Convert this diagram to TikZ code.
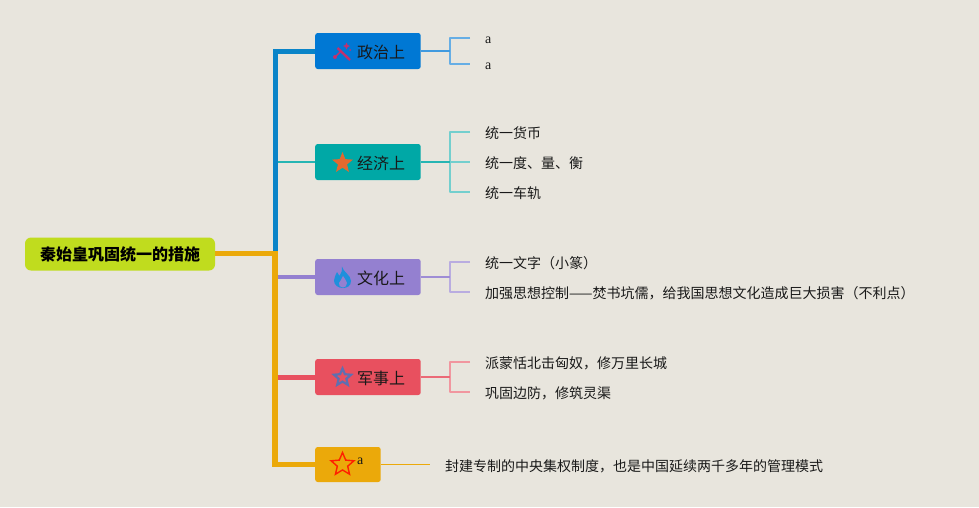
\documentclass[tikz,border=0pt]{standalone}
\usepackage{fontspec}
\setmainfont{Noto Sans CJK SC}
\newfontfamily\latinf{Liberation Serif}
\usetikzlibrary{shapes.geometric}
\definecolor{bgc}{HTML}{E8E5DD}
\definecolor{bluec}{HTML}{0078D4}
\definecolor{trunkb}{HTML}{0A84C8}
\definecolor{tealc}{HTML}{00A8A6}
\definecolor{purc}{HTML}{9480D0}
\definecolor{redc}{HTML}{E8505F}
\definecolor{orc}{HTML}{EBA90A}
\definecolor{limec}{HTML}{C0DC1E}
\definecolor{wandc}{HTML}{C2306E}
\definecolor{starc}{HTML}{E2692F}
\definecolor{flamec}{HTML}{1E90DC}
\definecolor{star4c}{HTML}{5F6FB0}
\tikzset{
  x=1pt,y=-1pt,
  rootbox/.style={draw=none,fill=limec,rounded corners=6pt,minimum width=190pt,minimum height=33pt,inner sep=0pt,font=\fontsize{16}{16}\selectfont\bfseries,text=black},
  topic/.style={fill=#1,rounded corners=2.5pt,minimum width=105.5pt,minimum height=36pt,inner sep=0pt,anchor=west},
  topictext/.style={font=\fontsize{16}{16}\selectfont,text=black!90,inner sep=0pt,anchor=west},
  leaf/.style={font=\fontsize{14}{14}\selectfont,text=black!90,inner ysep=0pt,inner xsep=15pt,anchor=west},
  leafa/.style={font=\latinf\fontsize{14}{14}\selectfont,text=black!90,inner ysep=0pt,inner xsep=15pt,anchor=west},
  trunk/.style={line width=#1,line cap=butt,line join=miter},
  sub/.style={line width=1.5pt,line join=round}
}
\begin{document}
\begin{tikzpicture}
\useasboundingbox (0,0) rectangle (979,507);
\fill[bgc] (0,0) rectangle (979,507);
% root & topics
\node[rootbox] (root) at (120,254) {秦始皇巩固统一的措施};
\node[topic=bluec] (t1) at (315,51) {};
\node[topic=tealc] (t2) at (315,162) {};
\node[topic=purc] (t3) at (315,277) {};
\node[topic=redc] (t4) at (315,377) {};
\node[topic=orc,minimum width=65.5pt,minimum height=35pt] (t5) at (315,464.5) {};
\node[topictext] (t1t) at (357,52) {政治上};
\node[topictext] (t2t) at (357,163) {经济上};
\node[topictext] (t3t) at (357,278) {文化上};
\node[topictext] (t4t) at (357,378) {军事上};
\node[font=\latinf\fontsize{14}{14}\selectfont,inner sep=0pt,anchor=west,text=black!90] (t5t) at (357,461.5) {a};
% trunk
\coordinate (j) at (275,253.5);
\coordinate (jt) at (275,51);
\coordinate (jb) at (275,464.5);
\draw[trunk=2pt,color=tealc!85!white] (t2.west -| j) -- (t2.west);
\draw[trunk=4pt,color=purc] (t3.west -| j) -- (t3.west);
\draw[trunk=5pt,color=redc] (t4.west -| j) -- (t4.west);
\draw[trunk=5pt,color=trunkb] (j) -- (jt) -- (t1.west);
\draw[trunk=5.5pt,color=orc] (root.east |- j) -- (j) -- (jb) -- (t5.west);
% leaves
\node[leafa] (a1) at (470,40.5) {a};
\node[leafa] (a2) at (470,66.5) {a};
\node[leaf] (b1) at (470,133) {统一货币};
\node[leaf] (b2) at (470,163) {统一度、量、衡};
\node[leaf] (b3) at (470,193) {统一车轨};
\node[leaf] (c1) at (470,263) {统一文字（小篆）};
\node[leaf] (c2) at (470,293) {加强思想控制——焚书坑儒，给我国思想文化造成巨大损害（不利点）};
\node[leaf] (d1) at (470,363) {派蒙恬北击匈奴，修万里长城};
\node[leaf] (d2) at (470,393) {巩固边防，修筑灵渠};
\node[leaf] (e1) at (430,466) {封建专制的中央集权制度，也是中国延续两千多年的管理模式};
% sub connectors
\coordinate (s1) at (450,51);
\coordinate (s2) at (450,162);
\coordinate (s3) at (450,277);
\coordinate (s4) at (450,377);
\draw[sub,color=bluec!60!white] ([yshift=2.5pt]a1.west) -| (s1) |- ([yshift=2.5pt]a2.west);
\draw[sub,color=bluec!75!white] (t1.east) -- (s1);
\draw[sub,color=tealc!55!white] ([yshift=1pt]b1.west) -| (s2) |- ([yshift=1pt]b3.west);
\draw[sub,color=tealc!55!white] (s2) -- ([yshift=1pt]b2.west);
\draw[sub,color=tealc!85!white] (t2.east) -- (s2);
\draw[sub,color=purc!65!white] ([yshift=1pt]c1.west) -| (s3) |- ([yshift=1pt]c2.west);
\draw[sub,color=purc!90!white] (t3.east) -- (s3);
\draw[sub,color=redc!60!white] ([yshift=1pt]d1.west) -| (s4) |- ([yshift=1pt]d2.west);
\draw[sub,color=redc!85!white] (t4.east) -- (s4);
\draw[line width=0.8pt,color=orc] (t5.east) -- ([yshift=1.5pt]e1.west);
% icons
\draw[line width=2.4pt,color=wandc] (337.5,48) -- (350,60);
\draw[line width=1.4pt,color=wandc] (336,56) -- (341,51);
\fill[wandc] (346.5,42.5) -- (347.6,45) -- (350,46) -- (347.6,47) -- (346.5,49.5) -- (345.4,47) -- (343,46) -- (345.4,45) -- cycle;
\fill[wandc] (335,57) circle (2);
\fill[wandc] (350,50) circle (1);
\node[star,star points=5,star point ratio=2.3,fill=starc,minimum size=22pt,inner sep=0pt] (i2) at (342.5,163) {};
\fill[color=flamec] (342,266.5) .. controls (343,272) and (351,275) .. (351,281)
  .. controls (351,286) and (347,288) .. (343,288)
  .. controls (338,288) and (334,285) .. (334,280.5)
  .. controls (334,277) and (336,275) .. (337,272)
  .. controls (338,274) and (339,275) .. (339.5,276)
  .. controls (341,273) and (343,270) .. (342,266.5) -- cycle;
\fill[purc] (343,276) .. controls (344,279) and (347,280) .. (347,283) .. controls (347,286) and (345,287.5) .. (343,287.5) .. controls (340,287.5) and (338.5,285.5) .. (339,283) .. controls (340,281) and (342,279) .. (343,276) -- cycle;
\node[star,star points=5,star point ratio=2.2,draw=star4c,line width=2.2pt,minimum size=18pt,inner sep=0pt] (i4) at (342.5,377.5) {};
\node[star,star points=5,star point ratio=2.2,draw=red!75!orange,line width=1.4pt,minimum size=24pt,inner sep=0pt] (i5) at (342.5,464.5) {};
\end{tikzpicture}
\end{document}
